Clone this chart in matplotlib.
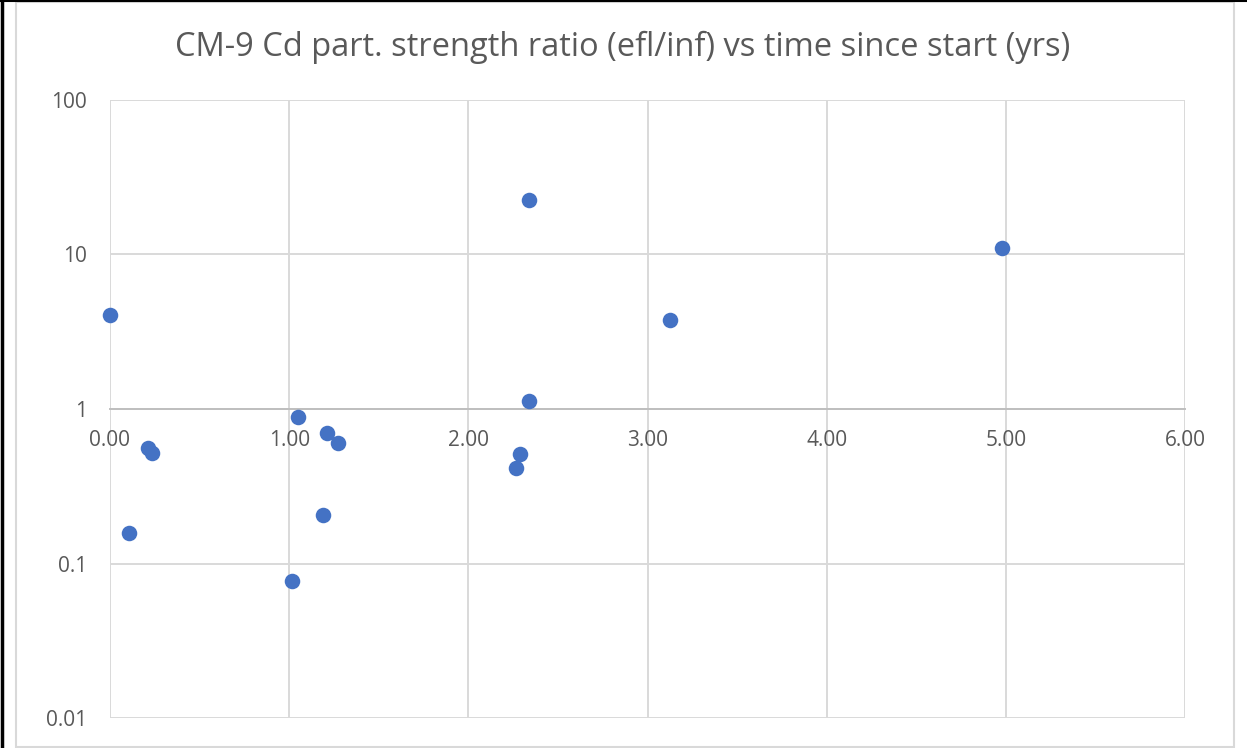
import matplotlib
matplotlib.use("Agg")
import matplotlib.pyplot as plt
from matplotlib.patches import Rectangle
from matplotlib.lines import Line2D

title = "CM-9 Cd part. strength ratio (efl/inf) vs time since start (yrs)"
time_yrs = [0.00, 0.108, 0.212, 0.236, 1.017, 1.047, 1.189, 1.209, 1.272,
            2.266, 2.287, 2.337, 2.339, 3.125, 4.979]
ratio = [4.06, 0.158, 0.562, 0.517, 0.0767, 0.89, 0.205, 0.696, 0.605,
         0.417, 0.514, 1.12, 22.4, 3.76, 11.0]
x_ticks = [0, 1, 2, 3, 4, 5, 6]
x_labels = ["0.00", "1.00", "2.00", "3.00", "4.00", "5.00", "6.00"]
y_ticks = [0.01, 0.1, 1, 10, 100]
y_labels = ["0.01", "0.1", "1", "10", "100"]

plt.rcParams['font.family'] = ['Open Sans', 'DejaVu Sans']
grid_c = "#d9d9d9"
text_c = "#595959"

fig = plt.figure(figsize=(12.47, 7.48), dpi=100)
W, H = 1247, 748
ax = fig.add_axes([110 / W, 1 - 718 / H, (1185 - 110) / W, (718 - 100) / H])

ax.set_yscale("log")
ax.set_xlim(0, 6)
ax.set_ylim(0.01, 100)

ax.set_xticks(x_ticks)
ax.set_xticklabels(x_labels)
ax.set_yticks(y_ticks)
ax.set_yticklabels(y_labels)
ax.yaxis.set_minor_locator(matplotlib.ticker.NullLocator())

ax.grid(True, color=grid_c, linewidth=1.4)
ax.set_axisbelow(True)
for s in ["top", "right", "left"]:
    ax.spines[s].set_visible(False)
ax.spines["bottom"].set_position(("data", 1))
ax.spines["bottom"].set_color("#bfbfbf")
ax.spines["bottom"].set_linewidth(1.4)
ax.tick_params(axis="both", length=0, labelsize=15, colors=text_c)
ax.tick_params(axis="x", pad=15)
ax.tick_params(axis="y", pad=16.5)

ax.scatter(time_yrs, ratio, s=125, color="#4472c4", zorder=3, linewidths=0,
           clip_on=False)

fig.text(623 / W, 1 - 47 / H, title, ha="center", va="center",
         fontsize=23.5, color=text_c)

# chart area border and screenshot edge
fig.add_artist(Rectangle((16 / W, 1 / H), (1234 - 16) / W, (746 - 1) / H,
                         transform=fig.transFigure, fill=False,
                         edgecolor="#d9d9d9", linewidth=1.5))
fig.add_artist(Line2D([1.5 / W, 1.5 / W], [0, 1], transform=fig.transFigure,
                      color="black", linewidth=2.5))
fig.add_artist(Line2D([0, 1], [1 - 1 / H, 1 - 1 / H], transform=fig.transFigure,
                      color="black", linewidth=1.5))

fig.savefig("out.png", dpi=100)
